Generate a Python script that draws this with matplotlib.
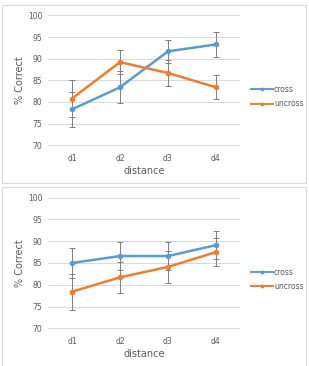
import matplotlib
matplotlib.use('Agg')
from matplotlib import pyplot as plt
from matplotlib.patches import Rectangle

categories = ["d1", "d2", "d3", "d4"]
series_names = ["cross", "uncross"]

# top chart
top_cross = [78.3, 83.4, 91.7, 93.3]
top_cross_err = [4.0, 3.7, 2.7, 2.8]
top_uncross = [80.8, 89.2, 86.7, 83.4]
top_uncross_err = [4.3, 2.7, 2.9, 2.8]

# bottom chart
bot_cross = [85.0, 86.6, 86.6, 89.1]
bot_cross_err = [3.4, 3.3, 3.3, 3.2]
bot_uncross = [78.4, 81.7, 84.1, 87.5]
bot_uncross_err = [4.1, 3.5, 3.7, 3.3]

yticks = [70, 75, 80, 85, 90, 95, 100]

blue = "#5B9BD5"
orange = "#ED7D31"
txt = "#595959"

W, H = 309, 366
fig = plt.figure(figsize=(W / 100, H / 100), dpi=100)
fig.patch.set_facecolor("white")

# panel frames (pixel coords from top)
for (y0, y1) in [(5, 183), (187, 368)]:
    fig.patches.append(Rectangle((2 / W, 1 - y1 / H), 304 / W, (y1 - y0) / H,
                                 transform=fig.transFigure, fill=False,
                                 edgecolor="#D9D9D9", linewidth=0.8))


def draw(ax, cross, cross_err, uncross, uncross_err):
    x = list(range(len(categories)))
    for vals, errs, col, name in [(cross, cross_err, blue, "cross"),
                                  (uncross, uncross_err, orange, "uncross")]:
        ax.errorbar(x, vals, yerr=errs, ecolor="#7F7F7F", elinewidth=0.7,
                    capsize=2, capthick=0.7, fmt="none", zorder=2)
        ax.plot(x, vals, "-o", color=col, lw=1.8, ms=3, label=name, zorder=3)
    ax.set_xlim(-0.5, 3.5)
    ax.set_ylim(69.9, 100.1)
    ax.set_yticks(yticks)
    ax.set_xticks(x)
    ax.set_xticklabels(categories)
    ax.grid(axis="y", color="#D9D9D9", lw=0.7)
    ax.set_axisbelow(True)
    for s in ax.spines.values():
        s.set_visible(False)
    ax.tick_params(length=0, labelsize=5.5, labelcolor=txt, pad=4)
    ax.tick_params(axis="x", pad=6)
    ax.set_xlabel("distance", fontsize=7, color=txt, labelpad=2)
    ax.set_ylabel("% Correct", fontsize=7, color=txt, labelpad=2)
    leg = ax.legend(loc="center left", bbox_to_anchor=(1.03, 0.376), frameon=False,
                    fontsize=5.5, labelcolor=txt, handlelength=2.9, handletextpad=0.1,
                    markerscale=0.6, labelspacing=0.7, borderpad=0.2)
    for line in leg.get_lines():
        line.set_linewidth(1.4)


ax1 = fig.add_axes([48 / W, 1 - 145.7 / H, 192 / W, 130.7 / H])
draw(ax1, top_cross, top_cross_err, top_uncross, top_uncross_err)
ax2 = fig.add_axes([48 / W, 1 - 328.7 / H, 192 / W, 131.4 / H])
draw(ax2, bot_cross, bot_cross_err, bot_uncross, bot_uncross_err)

fig.savefig("out.png", dpi=100, facecolor="white")
